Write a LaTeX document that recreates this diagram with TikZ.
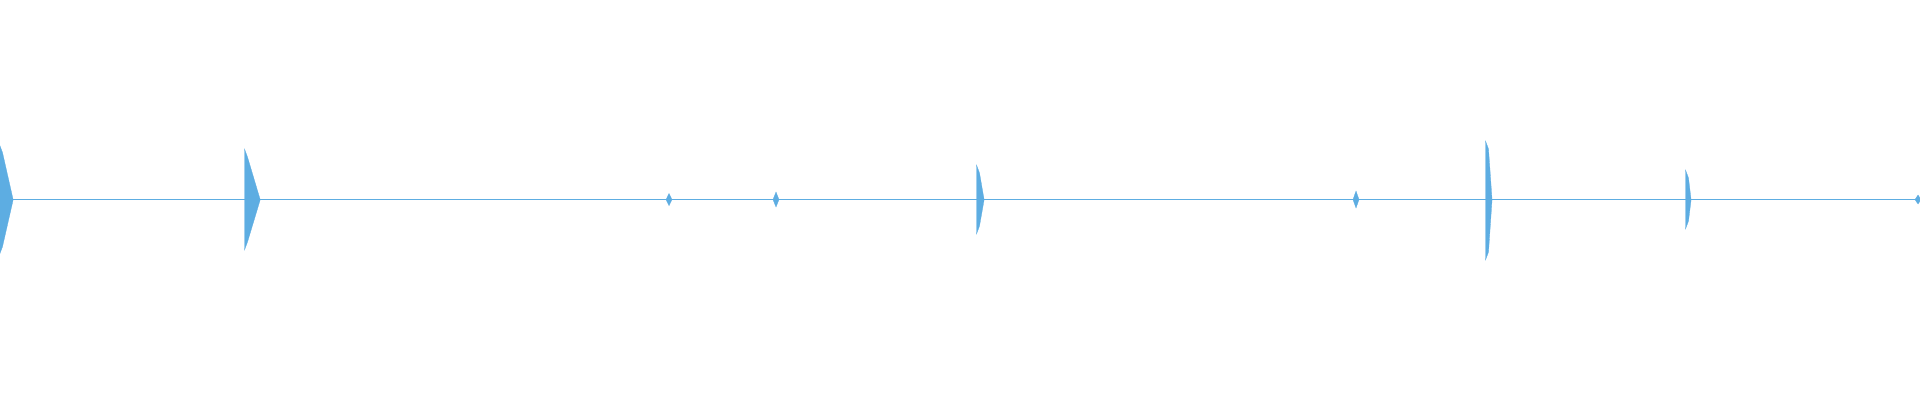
\documentclass[tikz,border=0pt]{standalone}
\definecolor{wave}{HTML}{5DADE2}
\begin{document}
\begin{tikzpicture}[x=0.05cm,y=-0.05cm,
  spike/.style={fill=wave,draw=wave,line width=0.4pt}]
\useasboundingbox (0,0) rectangle (1920,400);
\draw[wave,line width=0.9pt] (0,199.6) -- (1920,199.6);
% spikes: x, top, bottom, decay width
\foreach \x/\t/\b/\w in {1/144.5/254.7/12, 246/149/250/14, 978/165/234/6, 1487/141/260/5, 1687/170/229/4}{
  \fill[spike] (\x-1.5,\t) -- (\x+1.5,\t+8) -- (\x+\w,199) -- (\x+\w,200.5) -- (\x+1.5,\b-8) -- (\x-1.5,\b) -- cycle;
}
\foreach \x/\t/\b in {669/193.5/205.7, 776/192/207, 1356/191/208, 1918/195/204}{
  \fill[spike] (\x,\t) -- (\x+3,199.6) -- (\x,\b) -- (\x-3,199.6) -- cycle;
}
\end{tikzpicture}
\end{document}
